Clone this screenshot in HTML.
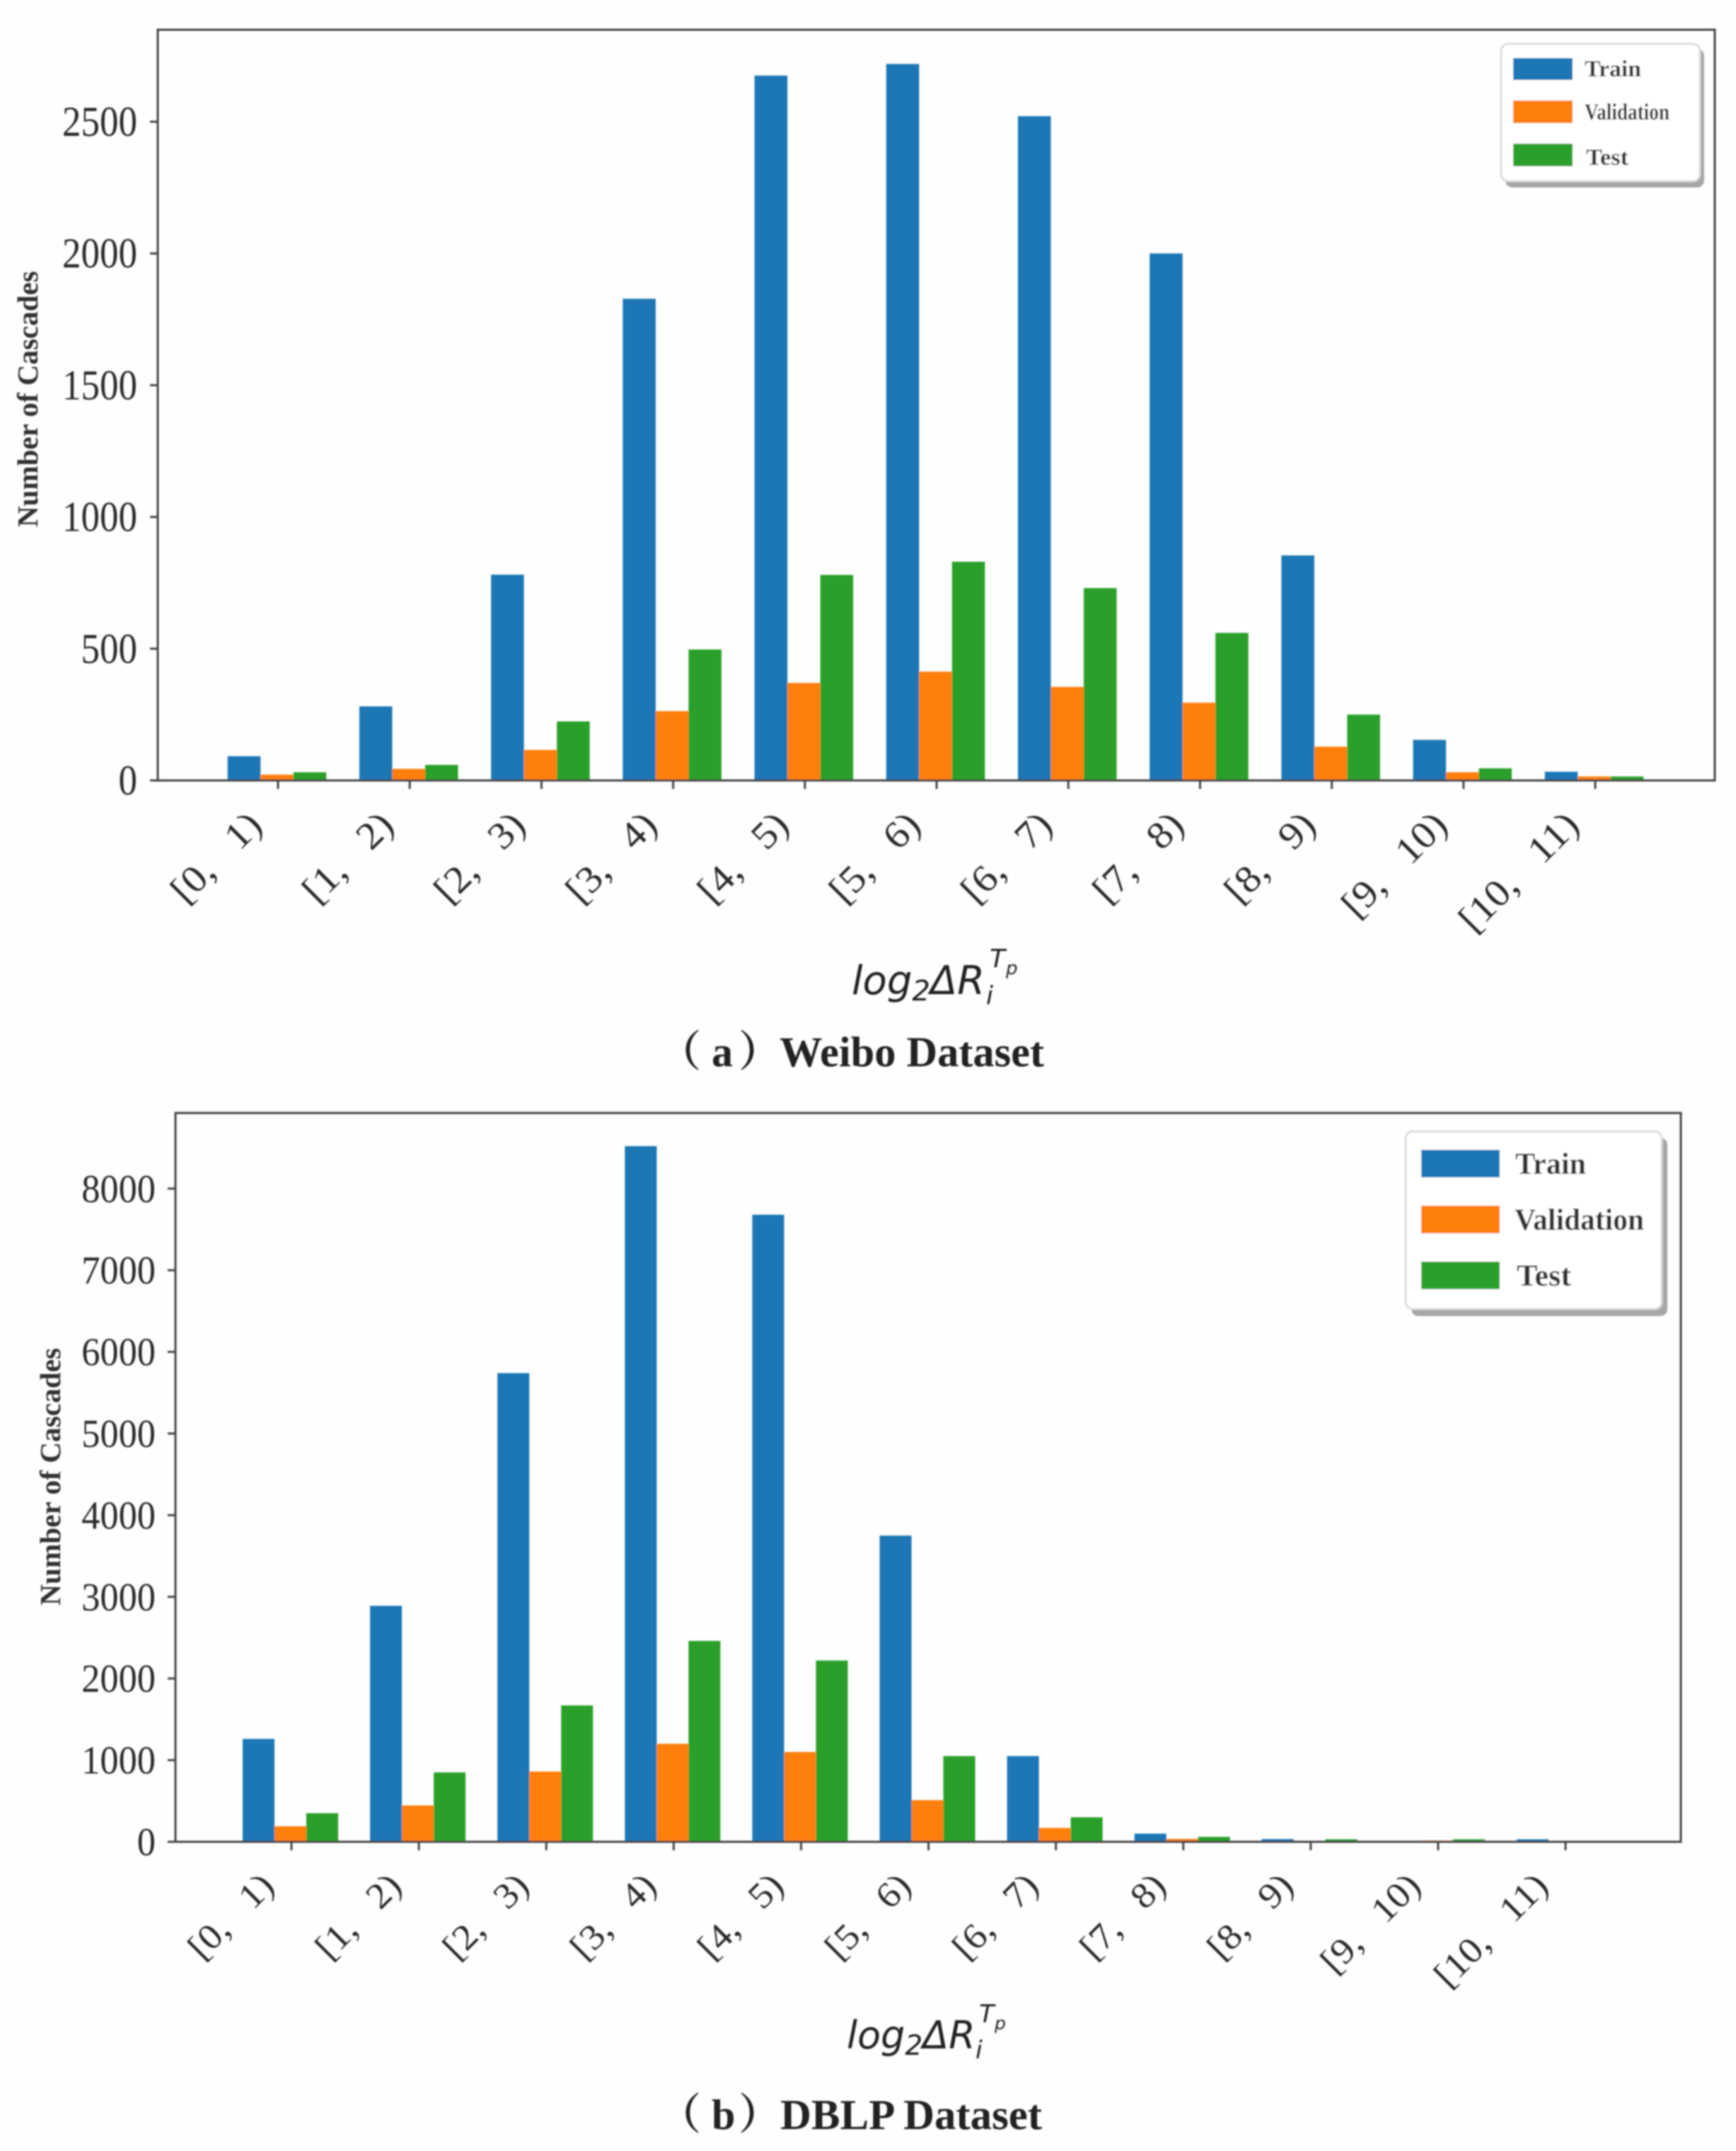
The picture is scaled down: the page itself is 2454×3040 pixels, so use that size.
<!DOCTYPE html>
<html>
<head>
<meta charset="utf-8">
<title>Cascade distributions</title>
<style>
html,body{margin:0;padding:0;background:#fefefe;}
svg{display:block;}
text{white-space:pre;}
.serif{font-family:"Liberation Serif","Noto Serif CJK SC",serif;}
.math{font-family:"DejaVu Sans",sans-serif;font-style:italic;fill:#222;}
.cap{font-family:"Liberation Serif","Noto Serif CJK SC",serif;font-weight:bold;fill:#222;}
.leg{font-family:"Liberation Serif",serif;font-weight:bold;fill:#333;}
</style>
</head>
<body>
<svg id="figure" xmlns="http://www.w3.org/2000/svg" width="2454" height="3040" viewBox="0 0 2454 3040">
  <defs>
    <filter id="soft" x="-2%" y="-2%" width="104%" height="104%"><feGaussianBlur stdDeviation="1.1"/></filter>
  </defs>
  <rect x="0" y="0" width="2454" height="3040" fill="#fefefe"/>

  <g id="panel-a" filter="url(#soft)">
    <g id="a-marks"></g>
    <g id="a-axes"></g>
    <text class="serif" transform="translate(53,745) rotate(-90)" font-size="41" font-weight="bold" fill="#333" textLength="362" lengthAdjust="spacingAndGlyphs">Number of Cascades</text>
    <text class="math" x="1204" y="1405" font-size="56">log<tspan font-size="40" dy="9">2</tspan><tspan dy="-9">ΔR</tspan></text>
    <text class="math" x="1394" y="1419" font-size="36">i</text>
    <text class="math" x="1399" y="1367" font-size="36">T</text>
    <text class="math" x="1422" y="1377" font-size="26">p</text>
    <g>
      <rect x="2128" y="69" width="281" height="196" rx="10" fill="#a6a6a6"/>
      <rect x="2122" y="62" width="281" height="194" rx="10" fill="#fff" stroke="#dcdcdc" stroke-width="3"/>
      <rect x="2139" y="82" width="84" height="31" fill="#1f77b4"/>
      <rect x="2139" y="142" width="84" height="32" fill="#ff7f0e"/>
      <rect x="2139" y="203" width="84" height="32" fill="#2ca02c"/>
      <text class="leg" x="2240" y="108" font-size="33" textLength="80" lengthAdjust="spacingAndGlyphs">Train</text>
      <text class="leg" x="2240" y="169" font-size="33" textLength="120" lengthAdjust="spacingAndGlyphs">Validation</text>
      <text class="leg" x="2242" y="233" font-size="33" textLength="60" lengthAdjust="spacingAndGlyphs">Test</text>
    </g>
  </g>
  <g filter="url(#soft)">
    <text class="cap" x="931" y="1507" font-size="60">（</text>
    <text class="cap" x="1006" y="1507" font-size="60">a</text>
    <text class="cap" x="1044" y="1507" font-size="60">）</text>
    <text class="cap" x="1102" y="1507" font-size="60" textLength="374" lengthAdjust="spacingAndGlyphs">Weibo Dataset</text>
  </g>

  <g id="panel-b" filter="url(#soft)">
    <g id="b-marks"></g>
    <g id="b-axes"></g>
    <text class="serif" transform="translate(85,2269) rotate(-90)" font-size="41" font-weight="bold" fill="#333" textLength="364" lengthAdjust="spacingAndGlyphs">Number of Cascades</text>
    <text class="math" x="1197" y="2895" font-size="54">log<tspan font-size="39" dy="9">2</tspan><tspan dy="-9">ΔR</tspan></text>
    <text class="math" x="1379" y="2909" font-size="35">i</text>
    <text class="math" x="1384" y="2858" font-size="35">T</text>
    <text class="math" x="1406" y="2868" font-size="25">p</text>
    <g>
      <rect x="1995" y="1608" width="362" height="252" rx="10" fill="#a6a6a6"/>
      <rect x="1987" y="1599" width="362" height="251" rx="10" fill="#fff" stroke="#dcdcdc" stroke-width="3"/>
      <rect x="2009" y="1625" width="111" height="39" fill="#1f77b4"/>
      <rect x="2009" y="1704" width="111" height="39" fill="#ff7f0e"/>
      <rect x="2009" y="1783" width="111" height="39" fill="#2ca02c"/>
      <text class="leg" x="2142" y="1659" font-size="43" textLength="100" lengthAdjust="spacingAndGlyphs">Train</text>
      <text class="leg" x="2141" y="1738" font-size="43" textLength="183" lengthAdjust="spacingAndGlyphs">Validation</text>
      <text class="leg" x="2144" y="1817" font-size="43" textLength="77" lengthAdjust="spacingAndGlyphs">Test</text>
    </g>
  </g>
  <g filter="url(#soft)">
    <text class="cap" x="931" y="3009" font-size="60">（</text>
    <text class="cap" x="1006" y="3009" font-size="60">b</text>
    <text class="cap" x="1044" y="3009" font-size="60">）</text>
    <text class="cap" x="1103" y="3009" font-size="60" textLength="370" lengthAdjust="spacingAndGlyphs">DBLP Dataset</text>
  </g>
</svg>

<script>
var categories = ["[0,   1)","[1,   2)","[2,   3)","[3,   4)","[4,   5)","[5,   6)","[6,   7)","[7,   8)","[8,   9)","[9,   10)","[10,   11)"];

var weiboTrain = [92,281,781,1828,2675,2719,2521,2000,854,154,33];
var weiboValidation = [22,44,116,263,370,413,355,295,128,31,15];
var weiboTest = [31,59,224,497,780,830,730,560,250,46,15];
var weiboTicks = [0,500,1000,1500,2000,2500];

var dblpTrain = [1260,2890,5740,8520,7680,3750,1050,100,33,10,30];
var dblpValidation = [190,445,860,1200,1100,510,170,35,8,15,8];
var dblpTest = [350,850,1670,2460,2220,1050,300,60,30,30,10];
var dblpTicks = [0,1000,2000,3000,4000,5000,6000,7000,8000];

var SVGNS = "http://www.w3.org/2000/svg";
var COLORS = ["#1f77b4","#ff7f0e","#2ca02c"];
var SERIES_NAMES = ["train","validation","test"];
var AXIS_COLOR = "#444";

function make(tag, parent, attrs) {
  var el = document.createElementNS(SVGNS, tag);
  for (var k in attrs) { el.setAttribute(k, attrs[k]); }
  parent.appendChild(el);
  return el;
}

function drawChart(cfg) {
  var marks = document.getElementById(cfg.marks);
  var axes = document.getElementById(cfg.axes);
  function xScale(i) { return cfg.x0 + cfg.step * i; }
  function yScale(v) { return cfg.base - v * cfg.pxPerUnit; }

  cfg.series.forEach(function (values, s) {
    values.forEach(function (v, i) {
      var top = yScale(v);
      var bar = make("rect", marks, {
        x: xScale(i) + (s - 1.5) * cfg.barWidth + cfg.barShift,
        y: top,
        width: cfg.barWidth,
        height: cfg.base - top,
        fill: COLORS[s]
      });
      
      
      bar.setAttribute('data-series', SERIES_NAMES[s]);
    });
  });

  var frame = make("rect", axes, {
    x: cfg.left, y: cfg.top,
    width: cfg.right - cfg.left, height: cfg.base - cfg.top,
    fill: "none", stroke: AXIS_COLOR, "stroke-width": 3
  });
  
  

  cfg.ticks.forEach(function (t) {
    var y = yScale(t);
    var tick = make("line", axes, {
      x1: cfg.left - 11, x2: cfg.left, y1: y, y2: y,
      stroke: AXIS_COLOR, "stroke-width": 3
    });
    
    
    var label = String(t);
    var lab = make("text", axes, {
      x: cfg.yLabelRight, y: y + cfg.yLabelDrop,
      "text-anchor": "end",
      "font-size": cfg.yFont,
      fill: "#2b2b2b",
      "class": "serif",
      textLength: label.length * cfg.digitWidth,
      lengthAdjust: "spacingAndGlyphs"
    });
    lab.textContent = label;
    
    
  });

  categories.forEach(function (c, i) {
    var x = xScale(i);
    var tick = make("line", axes, {
      x1: x, x2: x, y1: cfg.base, y2: cfg.base + 12,
      stroke: AXIS_COLOR, "stroke-width": 3
    });
    
    
    var extra = c.length - 8;
    var ex = x + cfg.labelDx;
    var ey = cfg.base + cfg.labelDy;
    var lab = make("text", axes, {
      x: 0, y: 0,
      transform: "translate(" + ex + "," + ey + ") rotate(-45)",
      "text-anchor": "end",
      "font-size": cfg.xFont,
      fill: "#2b2b2b",
      "class": "serif",
      textLength: cfg.labelLen + extra * cfg.labelExtra,
      lengthAdjust: "spacingAndGlyphs"
    });
    lab.textContent = c;
    
    
  });
}

drawChart({
  marks: "a-marks", axes: "a-axes",
  series: [weiboTrain, weiboValidation, weiboTest],
  ticks: weiboTicks,
  left: 223, right: 2424, top: 42, base: 1103,
  x0: 393, step: 186.2, barWidth: 46.5, barShift: -1.5, pxPerUnit: 0.3724,
  yLabelRight: 194, yLabelDrop: 20, yFont: 60, digitWidth: 26.5,
  xFont: 54, labelDx: -20, labelDy: 66, labelLen: 156, labelExtra: 29
});

drawChart({
  marks: "b-marks", axes: "b-axes",
  series: [dblpTrain, dblpValidation, dblpTest],
  ticks: dblpTicks,
  left: 248, right: 2376, top: 1573, base: 2603,
  x0: 412, step: 180.1, barWidth: 45, barShift: -1.5, pxPerUnit: 0.1154,
  yLabelRight: 220, yLabelDrop: 19, yFont: 56, digitWidth: 26.2,
  xFont: 51, labelDx: -22, labelDy: 65, labelLen: 147, labelExtra: 28
});
</script>
</body>
</html>
